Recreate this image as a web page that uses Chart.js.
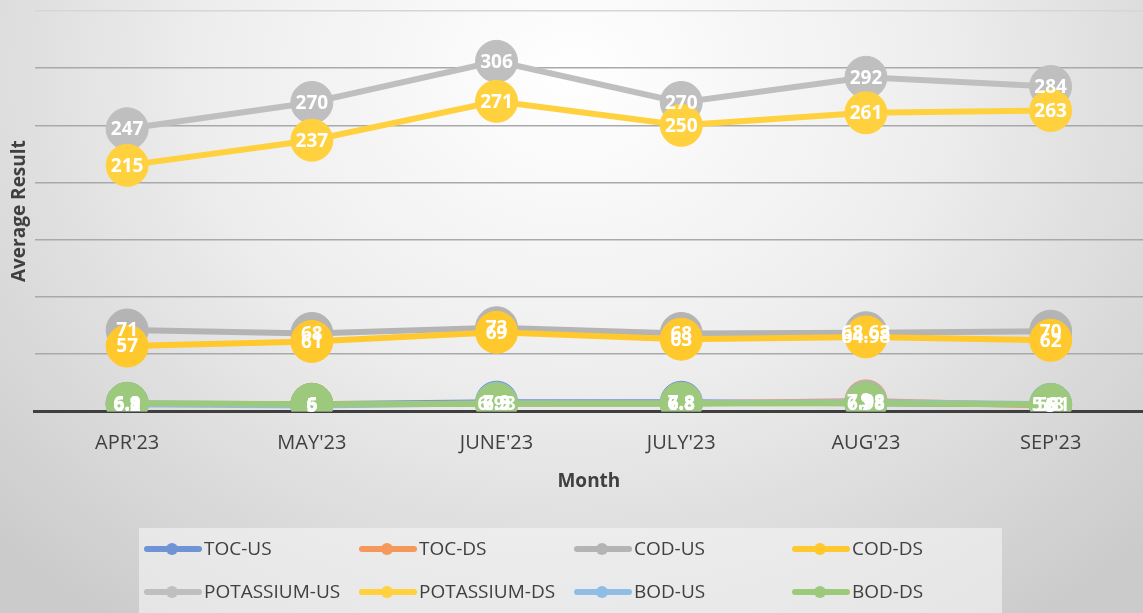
<!DOCTYPE html>
<html lang="en">
<head>
<meta charset="UTF-8">
<title>Average Result by Month</title>
<style>
  html, body { margin: 0; padding: 0; }
  body {
    width: 1143px; height: 613px; overflow: hidden;
    background: radial-gradient(ellipse 70% 110% at 50% 12%, #ffffff 0%, #eeeeee 45%, #cbcbcb 100%);
  }
  #wrap { position: relative; width: 1143px; height: 613px; }
  #legendBox {
    position: absolute; left: 139px; top: 528px; width: 863px; height: 85px;
    background: rgba(245, 245, 245, 0.6);
  }
  canvas { position: absolute; left: 0; top: 0; }
</style>
</head>
<body>
<div id="wrap">
  <div id="legendBox"></div>
  <canvas id="grafica" width="1143" height="613"></canvas>
</div>
<script src="https://cdn.jsdelivr.net/npm/chart.js@4.4.0/dist/chart.umd.min.js"></script>
<script>
  // datos
  const months = ["APR'23", "MAY'23", "JUNE'23", "JULY'23", "AUG'23", "SEP'23"];
  const tocUS = [6.8, 6, 7.9, 7.8, 7, 5.8];
  const tocDS = [6.2, 6, 6.5, 6.8, 9, 5];
  const codUS = [71, 68, 73, 68, 68.63, 70];
  const codDS = [57, 61, 69, 63, 64.98, 62];
  const potUS = [247, 270, 306, 270, 292, 284];
  const potDS = [215, 237, 271, 250, 261, 263];
  const bodUS = [6.1, 5, 6.98, 6.8, 7.98, 6];
  const bodDS = [6.9, 6, 6.5, 6.8, 6.98, 5.81];

  const FONT = "'Open Sans', 'Noto Sans', sans-serif";

  function serie(label, data, color, idx) {
    return {
      label: label,
      data: data,
      borderColor: color,
      backgroundColor: color,
      pointBackgroundColor: color,
      pointBorderColor: color,
      borderWidth: 6,
      pointRadius: 21,
      pointHoverRadius: 21,
      pointBorderWidth: 1,
      tension: 0,
      order: 10 - idx // la ultima serie queda encima
    };
  }

  // etiquetas de datos en blanco sobre cada punto
  const dataLabels = {
    id: 'dataLabels',
    afterDatasetsDraw(chart) {
      const ctx = chart.ctx;
      ctx.save();
      ctx.font = "bold 19px " + FONT;
      ctx.fillStyle = '#ffffff';
      ctx.textAlign = 'center';
      ctx.textBaseline = 'middle';
      chart.data.datasets.forEach((ds, i) => {
        chart.getDatasetMeta(i).data.forEach((pt, j) => {
          ctx.fillText(String(ds.data[j]), pt.x, pt.y + 1);
        });
      });
      ctx.restore();
    }
  };

  // leyenda en cuadricula de 4 columnas
  const gridLegend = {
    id: 'gridLegend',
    afterDraw(chart) {
      const ctx = chart.ctx;
      const cols = [145, 360, 575, 793];
      const rows = [549, 592];
      ctx.save();
      ctx.font = "19px " + FONT;
      ctx.textBaseline = 'middle';
      chart.data.datasets.forEach((ds, i) => {
        const x = cols[i % 4];
        const y = rows[Math.floor(i / 4)];
        ctx.strokeStyle = ds.borderColor;
        ctx.lineWidth = 6;
        ctx.lineCap = 'round';
        ctx.beginPath();
        ctx.moveTo(x + 2, y);
        ctx.lineTo(x + 54, y);
        ctx.stroke();
        ctx.fillStyle = ds.borderColor;
        ctx.beginPath();
        ctx.arc(x + 27, y, 6, 0, Math.PI * 2);
        ctx.fill();
        ctx.fillStyle = '#404040';
        ctx.fillText(ds.label, x + 59, y + 1);
      });
      ctx.restore();
    }
  };

  const ctx = document.getElementById('grafica').getContext('2d');
  const grafica = new Chart(ctx, {
    type: 'line',
    data: {
      labels: months,
      datasets: [
        serie('TOC-US', tocUS, '#6f93d4', 0),
        serie('TOC-DS', tocDS, '#f4995b', 1),
        serie('COD-US', codUS, '#b4b4b4', 2),
        serie('COD-DS', codDS, '#ffc82c', 3),
        serie('POTASSIUM-US', potUS, '#bfbfbf', 4),
        serie('POTASSIUM-DS', potDS, '#ffd13f', 5),
        serie('BOD-US', bodUS, '#8fbde6', 6),
        serie('BOD-DS', bodDS, '#9cc97b', 7)
      ]
    },
    options: {
      responsive: false,
      animation: false,
      layout: { autoPadding: false, padding: { top: 11, left: 4, right: 0, bottom: 116 } },
      plugins: {
        legend: { display: false },
        tooltip: { enabled: false }
      },
      scales: {
        x: {
          offset: true,
          grid: { display: false },
          border: { display: true, color: '#3f3f3f', width: 3 },
          ticks: { color: '#404040', font: { family: FONT, size: 20 }, padding: 12 },
          title: {
            display: true, text: 'Month', color: '#404040',
            font: { family: FONT, size: 19, weight: 'bold' }, padding: { top: 3 }
          }
        },
        y: {
          min: 0, max: 350,
          ticks: { display: false, stepSize: 50 },
          grid: {
            color: c => c.tick.value === 350 ? '#d6d6d6' : (c.tick.value === 0 ? 'rgba(0,0,0,0)' : '#a9a9a9'),
            lineWidth: 1.5,
            drawTicks: false
          },
          border: { display: false },
          title: {
            display: true, text: 'Average Result', color: '#404040',
            font: { family: FONT, size: 19, weight: 'bold' }, padding: { bottom: 4 }
          }
        }
      }
    },
    plugins: [dataLabels, gridLegend]
  });
</script>
</body>
</html>
